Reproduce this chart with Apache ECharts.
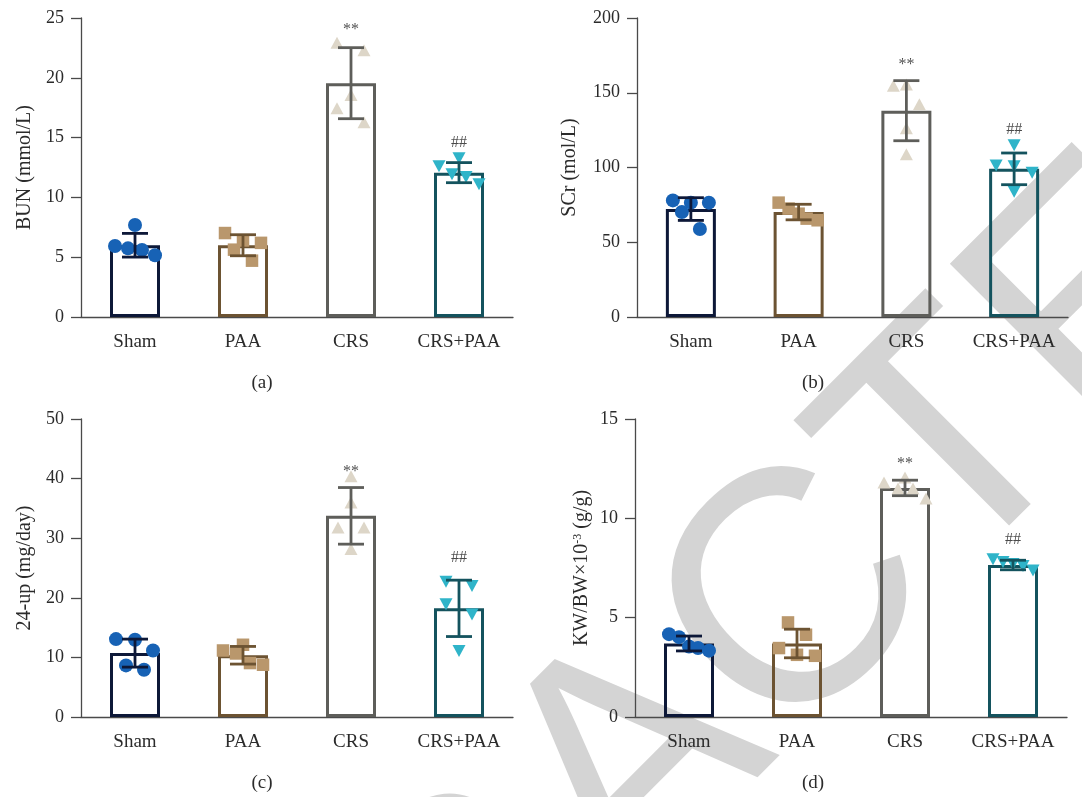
<!DOCTYPE html>
<html>
<head>
<meta charset="utf-8">
<script src="https://cdn.jsdelivr.net/npm/echarts@6/dist/echarts.min.js"></script>
<style>
html,body{margin:0;padding:0;background:#fff;}
#chart{width:1082px;height:797px;}
</style>
</head>
<body>
<div id="chart"></div>
<script>
// ---------- data ----------
const categories = ['Sham', 'PAA', 'CRS', 'CRS+PAA'];

// (a) BUN
const bunMean = [6.0, 6.0, 19.55, 12.07];
const bunSD = [0.99, 0.88, 2.97, 0.84];
const bunPoints = [[5.94, 5.74, 7.69, 5.6, 5.16], [7.02, 5.63, 6.4, 4.71, 6.2], [22.94, 22.3, 18.56, 17.45, 16.28], [12.6, 13.27, 11.93, 11.7, 11.09]];
const bunSig = ['', '', '**', '##'];
const bunSigAt = [0, 0, 24.0, 14.6];
const bunTicks = [0, 25, 5];

// (b) SCr
const scrMean = [72.2, 70.2, 138, 99.1];
const scrSD = [7.6, 5.2, 20.1, 10.6];
const scrPoints = [[78.0, 70.2, 76.5, 58.9, 76.5], [76.5, 72.5, 69.1, 65.8, 64.7], [154.7, 155.6, 142.3, 126.2, 108.8], [101.4, 114.8, 100.8, 96.5, 83.8]];
const scrSig = ['', '', '**', '##'];
const scrSigAt = [0, 0, 169, 125];
const scrTicks = [0, 200, 50];

// (c) 24-up
const upMean = [10.72, 10.36, 33.75, 18.23];
const upSD = [2.35, 1.48, 4.75, 4.73];
const upPoints = [[13.07, 12.96, 11.17, 8.66, 7.93], [11.16, 12.12, 10.66, 9.05, 8.77], [40.4, 36.0, 31.8, 31.8, 28.2], [22.7, 22.0, 18.9, 17.2, 11.06]];
const upSig = ['', '', '**', '##'];
const upSigAt = [0, 0, 41.1, 26.7];
const upTicks = [0, 50, 10];

// (d) KW/BW
const kwMean = [3.7, 3.7, 11.53, 7.65];
const kwSD = [0.375, 0.72, 0.39, 0.24];
const kwPoints = [[4.17, 4.02, 3.55, 3.47, 3.34], [4.76, 4.14, 3.47, 3.13, 3.08], [11.8, 12.05, 11.5, 11.5, 11.0], [7.94, 7.8, 7.7, 7.6, 7.37]];
const kwSig = ['', '', '**', '##'];
const kwSigAt = [0, 0, 12.75, 8.9];
const kwTicks = [0, 15, 5];

// horizontal spread of the dots (pixels)
const bunJitter = [[-20, -7, 0, 7, 20], [-18, -9, 0, 9, 18], [-14, 13, 0, -14, 13], [-20, 0, -7, 7, 20]];
const scrJitter = [[-18, -9, 0, 9, 18], [-20, -10, 0, 8, 19], [-13, 0, 13, 0, 0], [-18, 0, 0, 18, 0]];
const upJitter = [[-19, 0, 18, -9, 9], [-20, 0, -7, 7, 20], [0, 0, -13, 13, 0], [-13, 13, -13, 13, 0]];
const kwJitter = [[-20, -10, 0, 9, 20], [-9, 9, -18, 0, 18], [-21, 0, -7, 8, 21], [-20, -10, 0, 10, 20]];

// ---------- styles ----------
const FONT = '"Liberation Serif", "Times New Roman", serif';
const TXT = '#2b2b2b';
const AXIS = '#4a4a4a';
const outline = ['#0d1838', '#6c5332', '#5e5e5a', '#14535e'];
const dotColor = ['#1762b5', '#b9976c', '#ddd6c8', '#2fb4c9'];
const symbols = [
  {symbol: 'circle', symbolSize: 14, symbolRotate: 0},
  {symbol: 'rect', symbolSize: 12.5, symbolRotate: 0},
  {symbol: 'triangle', symbolSize: [13, 12], symbolRotate: 0},
  {symbol: 'triangle', symbolSize: [13, 12], symbolRotate: 180}
];

const panels = [
  {grid: {left: 81, top: 18, width: 432, height: 299}, ticks: bunTicks, name: 'BUN (mmol/L)', nameGap: 46,
   mean: bunMean, sd: bunSD, pts: bunPoints, jit: bunJitter, sig: bunSig, sigAt: bunSigAt},
  {grid: {left: 637, top: 18, width: 431, height: 299}, ticks: scrTicks, name: 'SCr (mol/L)', nameGap: 57,
   mean: scrMean, sd: scrSD, pts: scrPoints, jit: scrJitter, sig: scrSig, sigAt: scrSigAt},
  {grid: {left: 81, top: 419, width: 432, height: 298}, ticks: upTicks, name: '24-up (mg/day)', nameGap: 46,
   mean: upMean, sd: upSD, pts: upPoints, jit: upJitter, sig: upSig, sigAt: upSigAt},
  {grid: {left: 635, top: 419, width: 432, height: 298}, ticks: kwTicks, name: 'KW/BW×10{sup|-3} (g/g)', nameGap: 43,
   mean: kwMean, sd: kwSD, pts: kwPoints, jit: kwJitter, sig: kwSig, sigAt: kwSigAt}
];

const grid = [], xAxis = [], yAxis = [], series = [];
panels.forEach((p, i) => {
  grid.push(p.grid);
  xAxis.push({
    type: 'category', gridIndex: i, data: categories, boundaryGap: true,
    axisLine: {lineStyle: {color: AXIS, width: 1.3}},
    axisTick: {alignWithLabel: true, length: 8, lineStyle: {color: AXIS, width: 1.3}},
    axisLabel: {color: TXT, fontFamily: FONT, fontSize: 19, margin: 16, interval: 0, hideOverlap: false}
  });
  yAxis.push({
    type: 'value', gridIndex: i, min: p.ticks[0], max: p.ticks[1], interval: p.ticks[2],
    axisLine: {show: true, lineStyle: {color: AXIS, width: 1.3}},
    axisTick: {show: true, length: 10, lineStyle: {color: AXIS, width: 1.3}},
    axisLabel: {color: TXT, fontFamily: FONT, fontSize: 18, margin: 17},
    splitLine: {show: false},
    name: p.name, nameLocation: 'middle', nameGap: p.nameGap,
    nameTextStyle: {color: TXT, fontFamily: FONT, fontSize: 20,
      rich: {sup: {fontSize: 12, fontFamily: FONT, color: TXT, verticalAlign: 'top', padding: [0, 0, 8, 0]}}}
  });
  // bars
  series.push({
    type: 'bar', xAxisIndex: i, yAxisIndex: i, barWidth: 50, z: 2, silent: true,
    data: p.mean.map((m, g) => ({value: m, itemStyle: {color: 'rgba(0,0,0,0)', borderColor: outline[g], borderWidth: 3}}))
  });
  // dots
  p.pts.forEach((vals, g) => {
    series.push(Object.assign({
      type: 'scatter', xAxisIndex: i, yAxisIndex: i, z: 3, silent: true,
      itemStyle: {color: dotColor[g], opacity: 1},
      data: vals.map((v, k) => ({value: [g, v], symbolOffset: [p.jit[g][k], 0]}))
    }, symbols[g]));
  });
  // error bars
  series.push({
    type: 'custom', xAxisIndex: i, yAxisIndex: i, z: 4, silent: true,
    data: p.mean.map((m, g) => [g, m, p.sd[g]]),
    renderItem: function (params, api) {
      const g = api.value(0), m = api.value(1), s = api.value(2);
      const top = api.coord([g, m + s]);
      const bot = api.coord([g, m - s]);
      const half = 13;
      const st = {stroke: outline[g], lineWidth: 2.8};
      return {type: 'group', children: [
        {type: 'line', shape: {x1: top[0], y1: top[1], x2: bot[0], y2: bot[1]}, style: st},
        {type: 'line', shape: {x1: top[0] - half, y1: top[1], x2: top[0] + half, y2: top[1]}, style: st},
        {type: 'line', shape: {x1: bot[0] - half, y1: bot[1], x2: bot[0] + half, y2: bot[1]}, style: st}
      ]};
    }
  });
  // significance marks
  series.push({
    type: 'scatter', xAxisIndex: i, yAxisIndex: i, z: 5, silent: true, symbolSize: 1,
    itemStyle: {color: 'rgba(0,0,0,0)'},
    data: p.sig.map((t, g) => ({value: [g, p.sigAt[g]], name: t})).filter(d => d.name),
    label: {show: true, position: 'inside', formatter: d => d.name, color: '#1e1e1e', fontFamily: FONT,
      fontSize: 16}
  });
});

const captionStyle = {fontFamily: FONT, fontSize: 19, fill: TXT, textAlign: 'center', textVerticalAlign: 'middle'};
const chart = echarts.init(document.getElementById('chart'), null, {renderer: 'canvas'});
chart.setOption({
  animation: false,
  backgroundColor: '#fff',
  grid, xAxis, yAxis, series,
  graphic: [
    {type: 'text', x: -75, y: 1481, rotation: Math.PI / 4, z: -10, silent: true,
     style: {text: 'RETRACTED', font: '330px "Liberation Sans"', fill: '#d4d4d4', textAlign: 'left', textVerticalAlign: 'middle'}},
    {type: 'text', x: 262, y: 383, z: 10, style: Object.assign({text: '(a)'}, captionStyle)},
    {type: 'text', x: 813, y: 383, z: 10, style: Object.assign({text: '(b)'}, captionStyle)},
    {type: 'text', x: 262, y: 783, z: 10, style: Object.assign({text: '(c)'}, captionStyle)},
    {type: 'text', x: 813, y: 783, z: 10, style: Object.assign({text: '(d)'}, captionStyle)}
  ]
});
</script>
</body>
</html>
